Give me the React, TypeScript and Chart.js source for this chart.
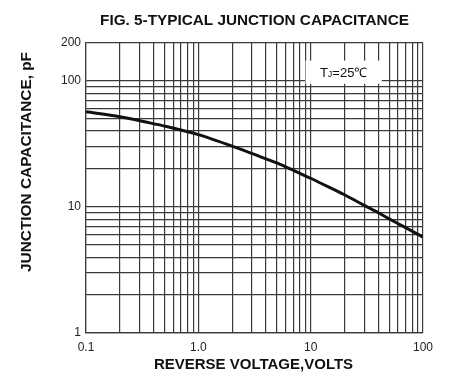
import React, { useEffect, useRef } from "react";
import { Chart, registerables } from "chart.js";

Chart.register(...registerables);

// Reverse voltage (V) and junction capacitance (pF)
const voltage = [0.1, 0.2, 0.37, 0.52, 1.0, 2.0, 3.8, 5.35, 7.5, 10, 12.2, 20, 30, 40, 50, 70, 100];
const capacitance = [57, 52, 46.5, 43.5, 37.5, 30.4, 24.5, 21.8, 19.0, 16.9, 15.5, 12.5, 10.3, 9.0, 8.05, 6.85, 5.77];

// Grid lines (log decades) and their labels
const xGridValues = [
  0.1, 0.2, 0.3, 0.4, 0.5, 0.6, 0.7, 0.8, 0.9,
  1, 2, 3, 4, 5, 6, 7, 8, 9,
  10, 20, 30, 40, 50, 60, 70, 80, 90,
  100,
];
const yGridValues = [
  1, 2, 3, 4, 5, 6, 7, 8, 9,
  10, 20, 30, 40, 50, 60, 70, 80, 90,
  100, 200,
];
const xTickLabels: Record<string, string> = { "0.1": "0.1", "1": "1.0", "10": "10", "100": "100" };
const yTickLabels: Record<string, string> = { "1": "1", "10": "10", "100": "100", "200": "200" };

const chartTitle = "FIG. 5-TYPICAL JUNCTION CAPACITANCE";
const xTitle = "REVERSE VOLTAGE,VOLTS";
const yTitle = "JUNCTION CAPACITANCE, pF";
const noteMain = "T";
const noteSub = "J";
const noteRest = "=25\u2103";
// annotation box extent in data units
const noteBoxV = [9, 43];
const noteBoxC = [95, 145];

const FONT = "'Liberation Sans', Arial, Helvetica, sans-serif";
const GRID = "#3a3a3a";

const decorPlugin = {
  id: "decor",
  afterDraw(chart: any) {
    const ctx = chart.ctx as CanvasRenderingContext2D;
    const area = chart.chartArea;
    const xs = chart.scales.x;
    const ys = chart.scales.y;
    ctx.save();
    ctx.fillStyle = "#111";
    // chart title
    ctx.font = `bold 15.3px ${FONT}`;
    ctx.textAlign = "center";
    ctx.textBaseline = "middle";
    ctx.fillText(chartTitle, (area.left + area.right) / 2, 21);
    // x axis title
    ctx.font = `bold 15px ${FONT}`;
    ctx.fillText(xTitle, (area.left + area.right) / 2 - 1, 365);
    // y axis title
    ctx.save();
    ctx.translate(27, 162);
    ctx.rotate(-Math.PI / 2);
    ctx.font = `bold 15.4px ${FONT}`;
    ctx.fillText(yTitle, 0, 0);
    ctx.restore();

    // annotation box
    const l = xs.getPixelForValue(noteBoxV[0]);
    const r = xs.getPixelForValue(noteBoxV[1]);
    const t = ys.getPixelForValue(noteBoxC[1]);
    const b = ys.getPixelForValue(noteBoxC[0]);
    ctx.fillStyle = "#fff";
    ctx.fillRect(l, t, r - l, b - t);
    ctx.fillStyle = "#111";
    ctx.textAlign = "left";
    ctx.textBaseline = "alphabetic";
    const bigFont = `13px ${FONT}`;
    const smallFont = `9px ${FONT}`;
    ctx.font = bigFont;
    const w1 = ctx.measureText(noteMain).width;
    const w3 = ctx.measureText(noteRest).width;
    ctx.font = smallFont;
    const w2 = ctx.measureText(noteSub).width;
    const total = w1 + w2 + w3;
    let x0 = (l + r) / 2 - total / 2;
    const base = (t + b) / 2 + 5;
    ctx.font = bigFont;
    ctx.fillText(noteMain, x0, base);
    x0 += w1;
    ctx.font = smallFont;
    ctx.fillText(noteSub, x0, base);
    x0 += w2;
    ctx.font = bigFont;
    ctx.fillText(noteRest, x0, base);
    ctx.restore();
  },
};

export default function App() {
  const canvasRef = useRef<HTMLCanvasElement | null>(null);

  useEffect(() => {
    if (!canvasRef.current) return;
    const chart = new Chart(canvasRef.current, {
      type: "line",
      data: {
        datasets: [
          {
            data: voltage.map((v, i) => ({ x: v, y: capacitance[i] })),
            borderColor: "#111",
            borderWidth: 3,
            pointRadius: 0,
            tension: 0.3,
            fill: false,
          },
        ],
      },
      options: {
        responsive: false,
        animation: false,
        layout: { padding: { top: 43, right: 32, left: 0, bottom: 0 } },
        plugins: {
          legend: { display: false },
          tooltip: { enabled: false },
          title: { display: false },
        },
        scales: {
          x: {
            type: "logarithmic",
            min: 0.1,
            max: 100,
            afterBuildTicks: (scale: any) => {
              scale.ticks = xGridValues.map((v) => ({ value: v }));
            },
            afterFit: (scale: any) => {
              scale.height = 51;
            },
            grid: { color: GRID, lineWidth: 1.2, drawTicks: false },
            border: { display: true, color: GRID, width: 1.2 },
            ticks: {
              autoSkip: false,
              maxRotation: 0,
              padding: 7,
              color: "#222",
              font: { family: FONT, size: 12 },
              callback: (value: any) => xTickLabels[String(value)] ?? "",
            },
          },
          y: {
            type: "logarithmic",
            min: 1,
            max: 200,
            afterBuildTicks: (scale: any) => {
              scale.ticks = yGridValues.map((v) => ({ value: v }));
            },
            afterFit: (scale: any) => {
              scale.width = 86;
            },
            grid: { color: GRID, lineWidth: 1.2, drawTicks: false },
            border: { display: true, color: GRID, width: 1.2 },
            ticks: {
              autoSkip: false,
              padding: 5,
              color: "#222",
              font: { family: FONT, size: 12 },
              callback: (value: any) => yTickLabels[String(value)] ?? "",
            },
          },
        },
      },
      plugins: [decorPlugin],
    });
    return () => chart.destroy();
  }, []);

  return (
    <div style={{ position: "fixed", left: 0, top: 0, width: 455, height: 384, background: "#fff" }}>
      <canvas ref={canvasRef} width={455} height={384} />
    </div>
  );
}
